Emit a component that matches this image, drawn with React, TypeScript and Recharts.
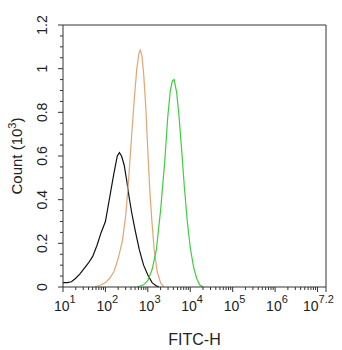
import { LineChart, Line, XAxis, YAxis, ReferenceLine } from "recharts";

// x values are log10(FITC-H), y values are counts in thousands
const blackLog = [1.0, 1.1, 1.2, 1.3, 1.4, 1.5, 1.6, 1.7, 1.8, 1.9, 2.0, 2.1, 2.2, 2.28, 2.33, 2.38, 2.44, 2.5, 2.56, 2.62, 2.7, 2.8, 2.9, 3.0, 3.1, 3.2, 3.26];
const blackCount = [0.02, 0.02, 0.024, 0.04, 0.06, 0.085, 0.11, 0.14, 0.19, 0.25, 0.3, 0.41, 0.52, 0.6, 0.615, 0.6, 0.56, 0.49, 0.41, 0.34, 0.26, 0.17, 0.1, 0.055, 0.02, 0.005, 0];

const orangeLog = [1.75, 1.9, 2.0, 2.1, 2.2, 2.3, 2.4, 2.48, 2.55, 2.62, 2.68, 2.74, 2.79, 2.82, 2.86, 2.9, 2.95, 3.0, 3.05, 3.1, 3.15, 3.22, 3.3, 3.38];
const orangeCount = [0, 0.01, 0.02, 0.04, 0.07, 0.13, 0.21, 0.33, 0.5, 0.7, 0.86, 1.0, 1.07, 1.085, 1.06, 0.98, 0.83, 0.62, 0.43, 0.29, 0.17, 0.07, 0.02, 0];

const greenLog = [2.75, 2.9, 3.0, 3.1, 3.2, 3.3, 3.4, 3.47, 3.53, 3.58, 3.62, 3.68, 3.74, 3.8, 3.86, 3.93, 4.0, 4.08, 4.15, 4.22, 4.3];
const greenCount = [0, 0.01, 0.03, 0.08, 0.17, 0.35, 0.58, 0.78, 0.9, 0.945, 0.95, 0.89, 0.77, 0.62, 0.46, 0.3, 0.18, 0.09, 0.04, 0.01, 0];

const yMajor = [0, 0.2, 0.4, 0.6, 0.8, 1, 1.2];
const xMajor = [1, 2, 3, 4, 5, 6, 7];
const xLabels: Record<string, string> = { "1": "1", "2": "2", "3": "3", "4": "4", "5": "5", "6": "6", "7.2": "7.2" };

const zip = (xs: number[], ys: number[]) => xs.map((x, i) => ({ x, y: ys[i] }));
const blackData = zip(blackLog, blackCount);
const orangeData = zip(orangeLog, orangeCount);
const greenData = zip(greenLog, greenCount);

const yTicks: number[] = [];
for (let i = 0; i <= 24; i++) yTicks.push(Number((i * 0.05).toFixed(2)));

const xTicks: number[] = [...xMajor, 7.2];
for (let d = 1; d <= 6; d++) {
	for (let k = 2; k <= 9; k++) xTicks.push(d + Math.log10(k));
}

const axisColor = "#333";
const textColor = "#222";
const font = "'Liberation Sans', Arial, sans-serif";

const YTick = (props: any) => {
	const { x, y, payload } = props;
	const v = payload.value;
	const major = yMajor.some((m) => Math.abs(m - v) < 1e-6);
	return (
		<g>
			<line x1={x} x2={x - (major ? 5 : 3)} y1={y} y2={y} stroke={axisColor} />
			{major && (
				<text
					transform={`translate(${x - 21},${y}) rotate(-90)`}
					textAnchor="middle"
					dy="0.35em"
					fontSize={14}
					fill={textColor}
					fontFamily={font}
				>
					{String(v)}
				</text>
			)}
		</g>
	);
};

const XTick = (props: any) => {
	const { x, y, payload } = props;
	const v = Number(payload.value.toFixed(3));
	const major = xMajor.includes(v) || v === 7.2;
	const exp = xLabels[String(v)];
	// last label is pulled left so it stays inside the picture
	const start = v === 7.2 ? x - 23 : x - 9;
	return (
		<g>
			<line x1={x} x2={x} y1={y} y2={y + (major ? 5 : 3)} stroke={axisColor} />
			{exp && (
				<text x={start} y={y + 24} textAnchor="start" fontSize={14} fill={textColor} fontFamily={font}>
					10
					<tspan dy={-8} fontSize={11}>
						{exp}
					</tspan>
				</text>
			)}
		</g>
	);
};

const CountLabel = () => (
	<text
		transform="translate(17,156) rotate(-90)"
		textAnchor="middle"
		dy="0.35em"
		fontSize={15}
		fill={textColor}
		fontFamily={font}
	>
		Count (10
		<tspan dy={-6} fontSize={11}>
			3
		</tspan>
		<tspan dy={6}>)</tspan>
	</text>
);

export default function App() {
	return (
		<div style={{ position: "absolute", left: 0, top: 0, background: "#fff" }}>
			<LineChart width={342} height={350} margin={{ top: 25, right: 16, bottom: 0, left: 0 }}>
				<XAxis
					type="number"
					dataKey="x"
					domain={[1, 7.2]}
					ticks={xTicks}
					interval={0}
					tick={<XTick />}
					tickSize={0}
					tickMargin={0}
					tickLine={false}
					height={63}
					stroke={axisColor}
					allowDuplicatedCategory={false}
					label={{ value: "FITC-H", position: "insideBottom", offset: 5, fontSize: 16, fill: textColor, fontFamily: font }}
				/>
				<YAxis
					type="number"
					domain={[0, 1.2]}
					ticks={yTicks}
					interval={0}
					tick={<YTick />}
					tickSize={0}
					tickMargin={0}
					tickLine={false}
					width={63}
					stroke={axisColor}
					label={{ content: () => <CountLabel /> }}
				/>
				<ReferenceLine y={1.2} stroke={axisColor} />
				<ReferenceLine x={7.2} stroke={axisColor} />
				<Line data={blackData} dataKey="y" stroke="#111" strokeWidth={1.2} dot={false} type="linear" isAnimationActive={false} />
				<Line data={orangeData} dataKey="y" stroke="#e3a574" strokeWidth={1.2} dot={false} type="linear" isAnimationActive={false} />
				<Line data={greenData} dataKey="y" stroke="#3fcf3f" strokeWidth={1.2} dot={false} type="linear" isAnimationActive={false} />
			</LineChart>
		</div>
	);
}
